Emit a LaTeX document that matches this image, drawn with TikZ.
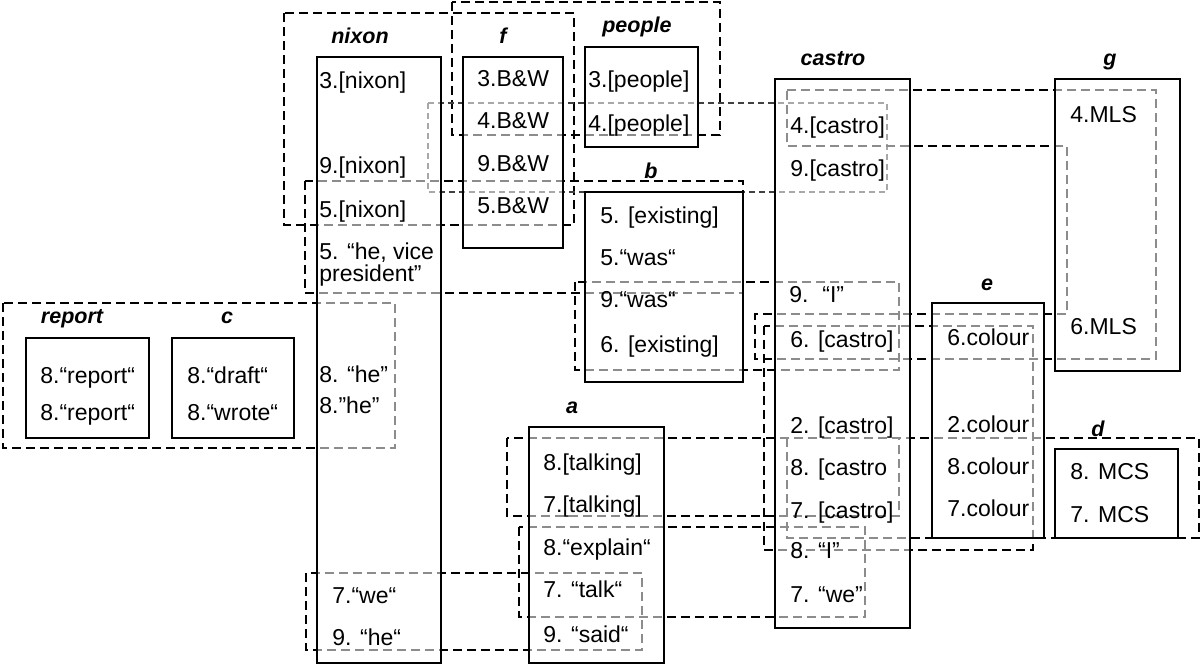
\documentclass[tikz,border=0pt]{standalone}
\usepackage{fontspec}
\setmainfont{Liberation Sans}

\tikzset{
  grp/.style={dash pattern=on 4.5pt off 2.5pt, line width=1pt},
  grpthin/.style={dash pattern=on 3pt off 2pt, line width=0.55pt, black!75},
  box/.style={draw=black, line width=0.9pt, fill=white, fill opacity=0.55},
  lbl/.style={font=\fontsize{10.75}{12}\selectfont\bfseries\itshape, inner sep=0pt, anchor=base},
  itm/.style={font=\fontsize{11.5}{13}\selectfont, inner sep=0pt, anchor=base west}
}

\begin{document}
\begin{tikzpicture}[x=0.5pt, y=-0.5pt]
    \useasboundingbox (0,0) rectangle (1201,666);

    % Relaciones (contornos discontinuos)
    \draw[grp] (284,13) rectangle (574,225);
    \draw[grp] (452,2) rectangle (720,135);
    \draw[grpthin] (428,103) rectangle (887,192);
    \draw[grp] (305,181) rectangle (743,293);
    \draw[grp] (787,90) -- (1156,90) -- (1156,359) -- (755,359) -- (755,314)
        -- (1067,314) -- (1067,146) -- (787,146) -- cycle;
    \draw[grp] (575,282) rectangle (899,370);
    \draw[grp] (764,326) rectangle (1033,550);
    \draw[grp] (3,303) rectangle (395,448);
    \draw[grp] (507,438) rectangle (899,516);
    \draw[grp] (787,438) rectangle (1199,538);
    \draw[grp] (519,527) rectangle (865,617);
    \draw[grp] (306,573) rectangle (642,650);

    % Entidades
    \draw[box] (317,57) rectangle (441,663);
    \draw[box] (463,57) rectangle (563,248);
    \draw[box] (585,47) rectangle (698,147);
    \draw[box] (585,192) rectangle (743,382);
    \draw[box] (775,79) rectangle (910,628);
    \draw[box] (1055,79) rectangle (1180,371);
    \draw[box] (932,303) rectangle (1044,538);
    \draw[box] (1055,449) rectangle (1178,538);
    \draw[box] (529,427) rectangle (664,663);
    \draw[box] (26,338) rectangle (149,438);
    \draw[box] (172,338) rectangle (294,438);

    % Etiquetas
    \node[lbl] (lnixon) at (360,43) {nixon};
    \node[lbl] (lf) at (503,43) {f};
    \node[lbl] (lpeople) at (637,32) {people};
    \node[lbl] (lb) at (651,178) {b};
    \node[lbl] (lcastro) at (833,65) {castro};
    \node[lbl] (lg) at (1110,65) {g};
    \node[lbl] (le) at (987,290) {e};
    \node[lbl] (ld) at (1098,436) {d};
    \node[lbl] (la) at (572,413) {a};
    \node[lbl] (lreport) at (72,323) {report};
    \node[lbl] (lc) at (227,323) {c};

    % nixon
    \node[itm] (nx3) at (319,88) {3.[nixon]};
    \node[itm] (nx9) at (319,173) {9.[nixon]};
    \node[itm] (nx5) at (319,217) {5.[nixon]};
    \node[itm] (nx5he) at (319,259) {5. “he, vice};
    \node[itm] (nx5pr) at (319,281) {president”};
    \node[itm] (nx8a) at (319,382) {8. “he”};
    \node[itm] (nx8b) at (319,413) {8.”he”};
    \node[itm] (nx7) at (332,603) {7.“we“};
    \node[itm] (nx9b) at (332,645) {9. “he“};

    % f
    \node[itm] (f3) at (477,86) {3.B\&W};
    \node[itm] (f4) at (477,128) {4.B\&W};
    \node[itm] (f9) at (477,171) {9.B\&W};
    \node[itm] (f5) at (477,213) {5.B\&W};

    % people
    \node[itm] (pp3) at (588,87) {3.[people]};
    \node[itm] (pp4) at (588,131) {4.[people]};

    % b
    \node[itm] (b5) at (600,223) {5. [existing]};
    \node[itm] (b5w) at (600,265) {5.“was“};
    \node[itm] (b9w) at (600,307) {9.“was“};
    \node[itm] (b6) at (600,352) {6. [existing]};

    % castro
    \node[itm] (cs4) at (790,133) {4.[castro]};
    \node[itm] (cs9) at (790,176) {9.[castro]};
    \node[itm] (cs9i) at (789,302) {9.\hspace{0.6em}“I”};
    \node[itm] (cs6) at (790,347) {6. [castro]};
    \node[itm] (cs2) at (790,433) {2. [castro]};
    \node[itm] (cs8) at (790,475) {8. [castro};
    \node[itm] (cs7) at (790,518) {7. [castro]};
    \node[itm] (cs8i) at (790,558) {8. “I”};
    \node[itm] (cs7w) at (790,602) {7. “we”};

    % g
    \node[itm] (g4) at (1070,122) {4.MLS};
    \node[itm] (g6) at (1070,334) {6.MLS};

    % e
    \node[itm] (e6) at (947,345) {6.colour};
    \node[itm] (e2) at (947,432) {2.colour};
    \node[itm] (e8) at (947,474) {8.colour};
    \node[itm] (e7) at (947,516) {7.colour};

    % d
    \node[itm] (d8) at (1070,479) {8. MCS};
    \node[itm] (d7) at (1070,522) {7. MCS};

    % a
    \node[itm] (a8) at (543,470) {8.[talking]};
    \node[itm] (a7) at (543,512) {7.[talking]};
    \node[itm] (a8e) at (543,555) {8.“explain“};
    \node[itm] (a7t) at (543,597) {7. “talk“};
    \node[itm] (a9s) at (543,642) {9. “said“};

    % report, c
    \node[itm] (r8a) at (40,383) {8.“report“};
    \node[itm] (r8b) at (40,420) {8.“report“};
    \node[itm] (c8a) at (187,383) {8.“draft“};
    \node[itm] (c8b) at (187,420) {8.“wrote“};
\end{tikzpicture}
\end{document}
